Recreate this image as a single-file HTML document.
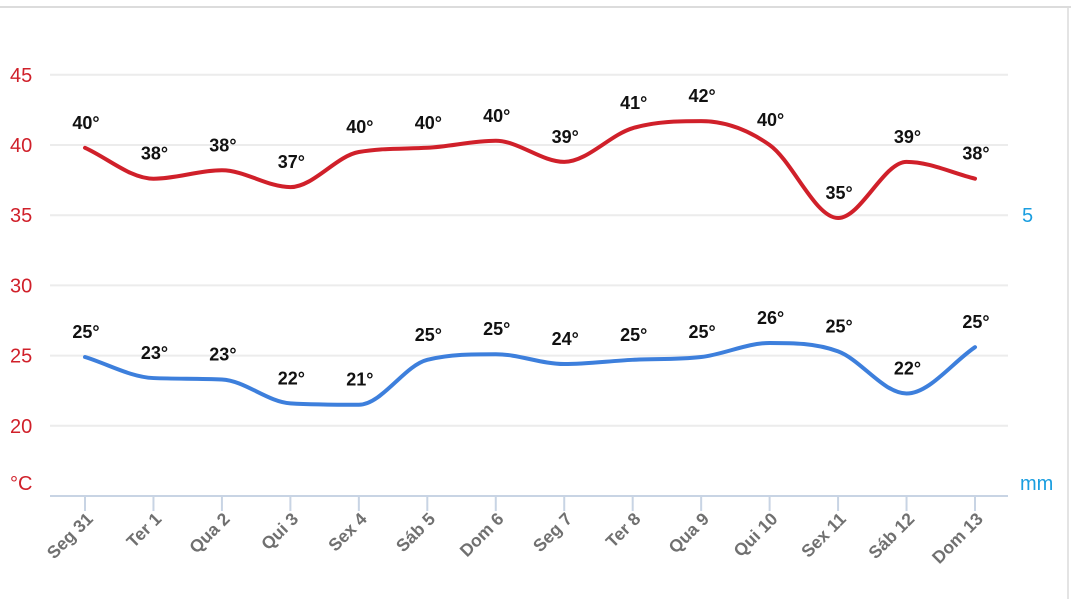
<!DOCTYPE html>
<html><head><meta charset="utf-8"><style>
body{margin:0;background:#fff;width:1071px;height:599px;overflow:hidden;font-family:"Liberation Sans",sans-serif}
</style></head><body>
<svg id="chart" width="1071" height="599" viewBox="0 0 1071 599" xmlns="http://www.w3.org/2000/svg">
<line x1="0" y1="7" x2="1071" y2="7" stroke="#dcdcdc" stroke-width="2"/>
<line x1="1068" y1="8" x2="1068" y2="599" stroke="#e4e4e4" stroke-width="2"/>
<g id="grid"></g><g id="yticks"></g><g id="xaxis"></g><g id="lines"></g><g id="labels"></g>
<text x="10" y="490" fill="#d0202a" font-size="20">°C</text>
<text x="1020" y="490" fill="#1a9ee0" font-size="20">mm</text>
<text x="1022" y="222" fill="#1a9ee0" font-size="20">5</text>
</svg>
<script>
const categories=["Seg 31","Ter 1","Qua 2","Qui 3","Sex 4","Sáb 5","Dom 6","Seg 7","Ter 8","Qua 9","Qui 10","Sex 11","Sáb 12","Dom 13"];
const maxTemps=[39.8,37.6,38.2,37.0,39.5,39.8,40.3,38.8,41.2,41.7,40.0,34.8,38.8,37.6];
const minTemps=[24.9,23.4,23.3,21.6,21.5,24.7,25.1,24.4,24.7,24.9,25.9,25.3,22.3,25.6];
const maxLabels=["40°","38°","38°","37°","40°","40°","40°","39°","41°","42°","40°","35°","39°","38°"];
const minLabels=["25°","23°","23°","22°","21°","25°","25°","24°","25°","25°","26°","25°","22°","25°"];
const yTicks=[20,25,30,35,40,45];
const NS="http://www.w3.org/2000/svg";
const X=i=>85+i*(890/13);
const Y=v=>496-(v-15)*14.04;
function mk(tag,attrs,parent,text){const e=document.createElementNS(NS,tag);for(const k in attrs)e.setAttribute(k,attrs[k]);if(text!==undefined)e.textContent=text;document.getElementById(parent).appendChild(e);return e;}
yTicks.forEach(t=>{
 const g=mk('line',{x1:50,x2:1008,y1:Y(t),y2:Y(t),stroke:'#ececec','stroke-width':2},'grid');
 
 
 const l=mk('text',{x:10,y:Y(t)+7,fill:'#d0202a','font-size':20},'yticks',String(t));
 
 
});
const ax=mk('line',{x1:50,x2:1008,y1:496,y2:496,stroke:'#c8d4e4','stroke-width':2},'xaxis');


categories.forEach((c,i)=>{
 const t=mk('line',{x1:X(i),x2:X(i),y1:496,y2:511,stroke:'#c8d4e4','stroke-width':2},'xaxis');
 
 
 const lx=X(i)+9,ly=520;
 const l=mk('text',{x:lx,y:ly,fill:'#707070','font-size':17.5,'font-weight':'bold','text-anchor':'end',transform:`rotate(-45 ${lx} ${ly})`},'xaxis',c);
 
 
});
function monotone(vals){
 const n=vals.length,xs=vals.map((_,i)=>X(i)),ys=vals.map(Y);
 const d=[],m=[];
 for(let i=0;i<n-1;i++)d.push((ys[i+1]-ys[i])/(xs[i+1]-xs[i]));
 m[0]=d[0];m[n-1]=d[n-2];
 for(let i=1;i<n-1;i++)m[i]=(d[i-1]*d[i]<=0)?0:(d[i-1]+d[i])/2;
 for(let i=0;i<n-1;i++){if(d[i]===0){m[i]=m[i+1]=0;continue;}const a=m[i]/d[i],b=m[i+1]/d[i],s=a*a+b*b;if(s>9){const t=3/Math.sqrt(s);m[i]=t*a*d[i];m[i+1]=t*b*d[i];}}
 let p=`M${xs[0]},${ys[0]}`;
 for(let i=0;i<n-1;i++){const h=(xs[i+1]-xs[i])/3;p+=` C${xs[i]+h},${ys[i]+m[i]*h} ${xs[i+1]-h},${ys[i+1]-m[i+1]*h} ${xs[i+1]},${ys[i+1]}`;}
 return p;
}
const lm=mk('path',{d:monotone(maxTemps),fill:'none',stroke:'#d0202a','stroke-width':4,'stroke-linecap':'round'},'lines');


const ln=mk('path',{d:monotone(minTemps),fill:'none',stroke:'#3d7fdc','stroke-width':4,'stroke-linecap':'round'},'lines');


categories.forEach((c,i)=>{
 const a=mk('text',{x:X(i)+1,y:Y(maxTemps[i])-19,'font-size':18,'font-weight':'bold',fill:'#111','text-anchor':'middle'},'labels',maxLabels[i]);
 
 
 const b=mk('text',{x:X(i)+1,y:Y(minTemps[i])-19,'font-size':18,'font-weight':'bold',fill:'#111','text-anchor':'middle'},'labels',minLabels[i]);
 
 
});
</script>
</body></html>
